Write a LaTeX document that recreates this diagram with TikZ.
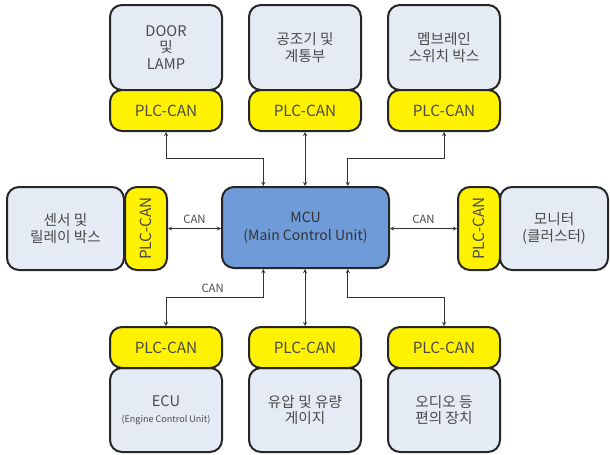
\documentclass[tikz,border=0pt]{standalone}
\usepackage{fontspec}
\setmainfont{Noto Sans CJK KR}
\usetikzlibrary{arrows,shapes,calc}
\definecolor{boxgray}{HTML}{E5EBF5}
\definecolor{mcublue}{HTML}{6F9BD8}
\definecolor{txtgray}{HTML}{4A4A4A}

\begin{document}
\begin{tikzpicture}[x=0.75pt,y=-0.75pt,>=stealth,
  dev/.style ={rectangle, draw=black!85, line width=1.5pt, fill=boxgray, rounded corners=9pt, text=txtgray, align=center, font=\fontsize{11}{12.5}\selectfont, minimum width=112*0.75pt, minimum height=85*0.75pt, inner sep=0pt},
  plc/.style ={rectangle, draw=black!85, line width=1.5pt, fill=yellow, rounded corners=9pt, text=txtgray, font=\fontsize{11.5}{12}\selectfont, minimum width=112*0.75pt, minimum height=41*0.75pt, inner sep=0pt},
  link/.style={<->, thin, black!80},
  lbl/.style ={text=txtgray, font=\fontsize{8.5}{9}\selectfont}]
\useasboundingbox (0,0) rectangle (610,454);
% top row
\draw (166,47.5) node[dev] (devA) {DOOR\\및\\LAMP};
\draw (305,47.5) node[dev] (devB) {공조기 및\\계통부};
\draw (444,47.5) node[dev] (devC) {멤브레인\\스위치 박스};
\draw (166,110.5) node[plc] (plcA) {PLC-CAN};
\draw (305,110.5) node[plc] (plcB) {PLC-CAN};
\draw (444,110.5) node[plc] (plcC) {PLC-CAN};
% center
\draw (305.5,227.5) node[dev, fill=mcublue, minimum width=167*0.75pt, minimum height=81*0.75pt, text=black!80, font=\fontsize{10.5}{13}\selectfont] (mcu) {MCU\\(Main Control Unit)};
% left / right
\draw (65.5,228.5) node[dev, minimum width=117*0.75pt, minimum height=83*0.75pt] (devL) {센서 및\\릴레이 박스};
\draw (146,228.5) node[plc, minimum width=42*0.75pt, minimum height=83*0.75pt] (plcL) {\rotatebox{90}{PLC-CAN}};
\draw (554,228.5) node[dev, minimum width=108*0.75pt, minimum height=83*0.75pt] (devR) {모니터\\(클러스터)};
\draw (479,228.5) node[plc, minimum width=42*0.75pt, minimum height=83*0.75pt] (plcR) {\rotatebox{90}{PLC-CAN}};
% bottom row
\draw (166,410) node[dev, minimum height=84*0.75pt] (devD) {ECU\\[-1pt]{\fontsize{6.8}{8}\selectfont(Engine Control Unit)}};
\draw (305,410) node[dev, minimum height=84*0.75pt] (devE) {유압 및 유량\\게이지};
\draw (444,410) node[dev, minimum height=84*0.75pt] (devF) {오디오 등\\편의 장치};
\draw (166,347.5) node[plc] (plcD) {PLC-CAN};
\draw (305,347.5) node[plc] (plcE) {PLC-CAN};
\draw (444,347.5) node[plc] (plcF) {PLC-CAN};
% links
\draw[link] (plcA.south) -- ++(0,26) -| ($(mcu.north west)!.25!(mcu.north east)$);
\draw[link] (plcB.south) -- (mcu.north -| plcB.south);
\draw[link] (plcC.south) -- ++(0,26) -| ($(mcu.north west)!.75!(mcu.north east)$);
\draw[link] (plcD.north) -- ++(0,-29) node[lbl, above, pos=1, xshift=35pt] {CAN} -| ($(mcu.south west)!.25!(mcu.south east)$);
\draw[link] (plcE.north) -- (mcu.south -| plcE.north);
\draw[link] (plcF.north) -- ++(0,-29) -| ($(mcu.south west)!.75!(mcu.south east)$);
\draw[link] (plcL.east) -- node[lbl, above] {CAN} (mcu.west |- plcL.east);
\draw[link] (plcR.west) -- node[lbl, above] {CAN} (mcu.east |- plcR.west);
\end{tikzpicture}
\end{document}
